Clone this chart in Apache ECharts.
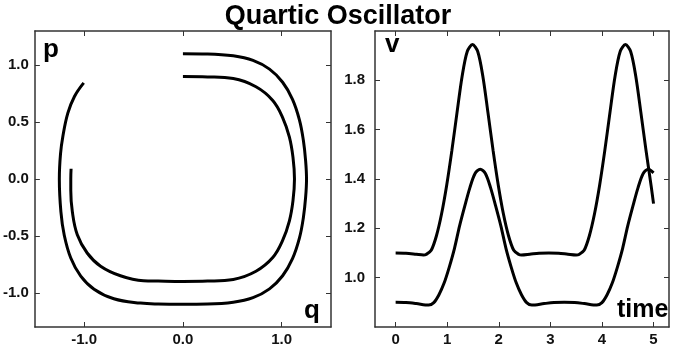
<!DOCTYPE html>
<html>
<head>
<meta charset="utf-8">
<script src="https://cdn.jsdelivr.net/npm/echarts@6/dist/echarts.min.js"></script>
<style>
html,body{margin:0;padding:0;background:#fff;}
#main{width:676px;height:347px;}
</style>
</head>
<body>
<div id="main"></div>
<script>
// phase plot: [q, p] pairs
var phaseOuter = [
	[0, 1.1], [0.25, 1.098], [0.51, 1.082], [0.71, 1.042], [0.877, 0.965], [1.01, 0.85],
	[1.11, 0.70], [1.18, 0.52], [1.22, 0.34], [1.243, 0.16], [1.252, 0], [1.243, -0.16],
	[1.22, -0.34], [1.18, -0.52], [1.11, -0.70], [1.01, -0.85], [0.877, -0.965], [0.71, -1.042],
	[0.51, -1.082], [0.25, -1.098], [0, -1.1], [-0.25, -1.098], [-0.43, -1.09], [-0.70, -1.052],
	[-0.90, -0.968], [-1.035, -0.853], [-1.136, -0.694], [-1.203, -0.49], [-1.236, -0.289],
	[-1.252, 0], [-1.24, 0.22], [-1.216, 0.376], [-1.166, 0.578], [-1.10, 0.723], [-1.005, 0.844]
];
var phaseInner = [
	[0, 0.9], [0.25, 0.897], [0.51, 0.882], [0.74, 0.81], [0.91, 0.69], [1.01, 0.54],
	[1.078, 0.37], [1.115, 0.19], [1.13, 0], [1.115, -0.19], [1.078, -0.37], [1.01, -0.54],
	[0.91, -0.69], [0.74, -0.81], [0.51, -0.882], [0.25, -0.897], [0, -0.9], [-0.25, -0.897],
	[-0.40, -0.894], [-0.633, -0.85], [-0.834, -0.766], [-0.97, -0.65], [-1.07, -0.49],
	[-1.12, -0.289], [-1.136, -0.1], [-1.136, 0], [-1.133, 0.09]
];

// v against time
var timeOuter = [0, 0.2, 0.4, 0.54, 0.59, 0.69, 0.79, 0.89, 0.99, 1.09, 1.19, 1.29, 1.39, 1.49,
	1.59, 1.69, 1.79, 1.89, 1.99, 2.09, 2.19, 2.29, 2.39, 2.44, 2.6, 2.78, 2.97, 3.16, 3.34,
	3.5, 3.555, 3.655, 3.755, 3.855, 3.955, 4.055, 4.155, 4.255, 4.355, 4.455, 4.555, 4.655,
	4.755, 4.855, 4.955, 5.0];
var vOuter = [1.1, 1.099, 1.095, 1.092, 1.094, 1.111, 1.169, 1.258, 1.375, 1.515, 1.669, 1.818, 1.918, 1.945,
	1.918, 1.818, 1.669, 1.515, 1.375, 1.258, 1.169, 1.111, 1.094, 1.092, 1.095, 1.099, 1.1, 1.099, 1.095,
	1.092, 1.094, 1.111, 1.169, 1.258, 1.375, 1.515, 1.669, 1.818, 1.918, 1.945, 1.918, 1.818,
	1.669, 1.515, 1.37, 1.3];
var timeInner = [0, 0.2, 0.4, 0.64, 0.74, 0.84, 0.94, 1.04, 1.14, 1.24, 1.34, 1.44, 1.54, 1.64,
	1.74, 1.84, 1.94, 2.04, 2.14, 2.24, 2.34, 2.44, 2.54, 2.64, 2.88, 3.07, 3.27, 3.47, 3.66,
	3.9, 4.0, 4.1, 4.2, 4.3, 4.4, 4.5, 4.6, 4.7, 4.8, 4.9, 5.0];
var vInner = [0.9, 0.899, 0.895, 0.889, 0.899, 0.931, 0.978, 1.043, 1.118, 1.21, 1.29, 1.365, 1.422, 1.44,
	1.422, 1.365, 1.29, 1.21, 1.118, 1.043, 0.978, 0.931, 0.899, 0.889, 0.895, 0.899, 0.9, 0.899, 0.895,
	0.889, 0.899, 0.931, 0.978, 1.043, 1.118, 1.21, 1.29, 1.365, 1.422, 1.44, 1.425];

var qTicks = [-1, 0, 1];
var pTicks = [-1, -0.5, 0, 0.5, 1];
var tTicks = [0, 1, 2, 3, 4, 5];
var vTicks = [1.0, 1.2, 1.4, 1.6, 1.8];

function pairs(xs, ys) {
	return xs.map(function (x, i) { return [x, ys[i]]; });
}

var font = 'Liberation Sans';
var frame = { show: true, onZero: false, lineStyle: { color: '#333', width: 1.5 } };

function axis(pos, grid, min, max, ticks, labels, margin, fmt) {
	return {
		type: 'value', gridIndex: grid, position: pos, min: min, max: max,
		splitLine: { show: false },
		axisLine: frame,
		axisTick: { show: true, inside: true, length: 5, customValues: ticks, lineStyle: { color: '#333', width: 1 } },
		axisLabel: {
			show: labels, customValues: ticks, margin: margin,
			fontFamily: font, fontWeight: 'bold', fontSize: 15, color: '#111',
			formatter: fmt
		}
	};
}
var f1 = function (v) { return v.toFixed(1); };
var f0 = function (v) { return v.toFixed(0); };

var myChart = echarts.init(document.getElementById('main'), null, { renderer: 'canvas' });

var lineStyle = { color: '#000', width: 3 };

var option = {
	animation: false,
	title: {
		text: 'Quartic Oscillator', left: 'center', top: -2,
		textStyle: { fontFamily: font, fontWeight: 'bold', fontSize: 27, color: '#000' }
	},
	grid: [
		{ left: 33, top: 31, width: 298, height: 299 },
		{ left: 375, top: 31, width: 294, height: 299 }
	],
	xAxis: [
		axis('bottom', 0, -1.5, 1.5, qTicks, true, 5, f1),
		axis('top', 0, -1.5, 1.5, qTicks, false, 5, f1),
		axis('bottom', 1, -0.4, 5.3, tTicks, true, 5, f0),
		axis('top', 1, -0.4, 5.3, tTicks, false, 5, f0)
	],
	yAxis: [
		axis('left', 0, -1.3, 1.3, pTicks, true, 6, f1),
		axis('right', 0, -1.3, 1.3, pTicks, false, 6, f1),
		axis('left', 1, 0.8, 2.0, vTicks, true, 10, f1),
		axis('right', 1, 0.8, 2.0, vTicks, false, 10, f1)
	],
	series: [
		{ type: 'line', xAxisIndex: 0, yAxisIndex: 0, data: phaseOuter, smooth: 0.4, showSymbol: false, lineStyle: lineStyle },
		{ type: 'line', xAxisIndex: 0, yAxisIndex: 0, data: phaseInner, smooth: 0.4, showSymbol: false, lineStyle: lineStyle },
		{ type: 'line', xAxisIndex: 2, yAxisIndex: 2, data: pairs(timeOuter, vOuter), smooth: 0.3, showSymbol: false, lineStyle: lineStyle },
		{ type: 'line', xAxisIndex: 2, yAxisIndex: 2, data: pairs(timeInner, vInner), smooth: 0.3, showSymbol: false, lineStyle: lineStyle }
	],
	graphic: [
		{ type: 'text', left: 43, top: 37, style: { text: 'p', fontFamily: font, fontWeight: 'bold', fontSize: 26, fill: '#000' } },
		{ type: 'text', left: 304, top: 298, style: { text: 'q', fontFamily: font, fontWeight: 'bold', fontSize: 26, fill: '#000' } },
		{ type: 'text', left: 385, top: 32, style: { text: 'v', fontFamily: font, fontWeight: 'bold', fontSize: 26, fill: '#000' } },
		{ type: 'text', left: 617, top: 298, style: { text: 'time', fontFamily: font, fontWeight: 'bold', fontSize: 25, fill: '#000' } }
	]
};
myChart.setOption(option);
</script>
</body>
</html>
